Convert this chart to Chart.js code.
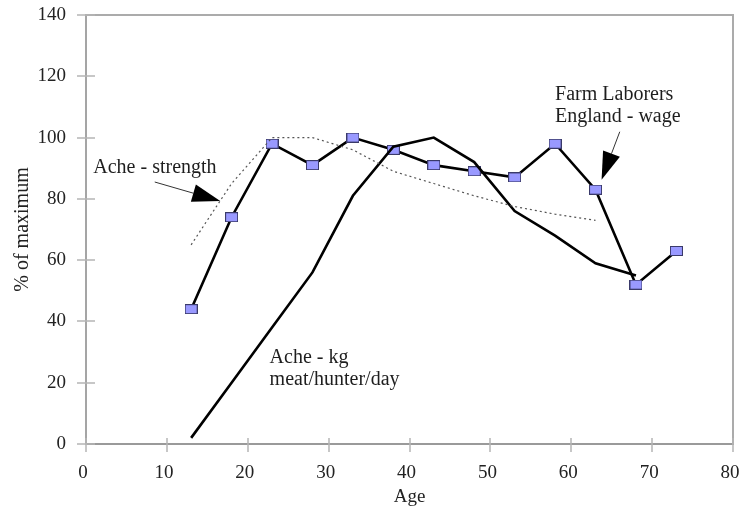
<!DOCTYPE html>
<html><head><meta charset="utf-8">
<script src="https://cdn.jsdelivr.net/npm/chart.js@4.4.0/dist/chart.umd.min.js"></script>
<style>html,body{margin:0;padding:0;background:#fff}</style>
</head><body>
<canvas id="c" width="742" height="509"></canvas>
<script>
// ---- data ----
const farmAges   = [13, 18, 23, 28, 33, 38, 43, 48, 53, 58, 63, 68, 73];
const farmWage   = [44, 74, 98, 91, 100, 96, 91, 89, 87, 98, 83, 52, 63];
const acheKgAges = [13, 18, 23, 28, 33, 38, 43, 48, 53, 58, 63, 68];
const acheKg     = [2, 20, 38, 56, 81, 97, 100, 92, 76, 68, 59, 55];
const strengthAges = [13, 18, 23, 28, 33, 38, 43, 48, 53, 58, 63];
const acheStrength = [65, 85, 100, 100, 96, 89, 85, 81, 77.5, 75, 73];
const xTicks = [0, 10, 20, 30, 40, 50, 60, 70, 80];
const yTicks = [0, 20, 40, 60, 80, 100, 120, 140];
const xTitle = 'Age';
const yTitle = '% of maximum';

// annotations (in data coordinates)
const labels = [
  {lines: ['Ache - strength'], x: 0.9, y: 88.4},
  {lines: ['Farm Laborers', 'England - wage'], x: 58.0, y: 112.3},
  {lines: ['Ache - kg', 'meat/hunter/day'], x: 22.7, y: 26.3}
];
const arrows = [
  {from: [8.5, 85.5], to: [16.6, 79.3]},
  {from: [66.0, 101.9], to: [63.75, 86.2]}
];

const toXY = (xs, ys) => xs.map((x, i) => ({x: x, y: ys[i]}));

// rectangular marker
const marker = document.createElement('canvas');
marker.width = 13; marker.height = 10;
(function(){
  const m = marker.getContext('2d');
  m.fillStyle = '#9999ff';
  m.fillRect(0.5, 0.5, 12, 9);
  m.strokeStyle = '#3a3a6a';
  m.lineWidth = 1;
  m.strokeRect(0.5, 0.5, 12, 9);
})();

const FONT = 'Liberation Serif, Times New Roman, serif';

const zeroPad = s => { s.paddingTop = 0; s.paddingBottom = 0; s.paddingLeft = 0; s.paddingRight = 0; };

const decor = {
  id: 'decor',
  beforeDatasetsDraw(chart) {
    const {ctx, chartArea: a, scales: {x, y}} = chart;
    ctx.save();
    ctx.strokeStyle = '#ababab';
    ctx.lineWidth = 2;
    ctx.beginPath();
    ctx.moveTo(a.left, a.top); ctx.lineTo(a.right, a.top); ctx.lineTo(a.right, a.bottom);
    ctx.stroke();
    ctx.strokeStyle = '#b5b5b5';
    ctx.lineWidth = 1.5;
    ctx.beginPath();
    yTicks.forEach(v => {
      const py = Math.round(y.getPixelForValue(v));
      ctx.moveTo(a.left - 9, py); ctx.lineTo(a.left + 9, py);
    });
    xTicks.forEach(v => {
      const px = Math.round(x.getPixelForValue(v));
      ctx.moveTo(px, a.bottom - 6); ctx.lineTo(px, a.bottom + 8);
    });
    ctx.stroke();
    ctx.restore();
  },
  afterDatasetsDraw(chart) {
    const {ctx, scales: {x, y}} = chart;
    ctx.save();
    ctx.fillStyle = '#1e1e1e';
    ctx.font = '20px ' + FONT;
    ctx.textBaseline = 'alphabetic';
    ctx.textAlign = 'left';
    labels.forEach(l => {
      const px = x.getPixelForValue(l.x);
      const py = y.getPixelForValue(l.y);
      l.lines.forEach((t, i) => ctx.fillText(t, px, py + i * 22));
    });
    arrows.forEach(ar => {
      const x0 = x.getPixelForValue(ar.from[0]), y0 = y.getPixelForValue(ar.from[1]);
      const x1 = x.getPixelForValue(ar.to[0]), y1 = y.getPixelForValue(ar.to[1]);
      const dx = x1 - x0, dy = y1 - y0, len = Math.hypot(dx, dy);
      const ux = dx / len, uy = dy / len;
      const hl = 28, hw = 9;
      const bx = x1 - ux * hl, by = y1 - uy * hl;
      ctx.strokeStyle = '#333';
      ctx.lineWidth = 1;
      ctx.beginPath(); ctx.moveTo(x0, y0); ctx.lineTo(bx, by); ctx.stroke();
      ctx.fillStyle = '#000';
      ctx.beginPath();
      ctx.moveTo(x1, y1);
      ctx.lineTo(bx - uy * hw, by + ux * hw);
      ctx.lineTo(bx + uy * hw, by - ux * hw);
      ctx.closePath(); ctx.fill();
    });
    ctx.restore();
  }
};

new Chart(document.getElementById('c'), {
  type: 'scatter',
  data: {
    datasets: [
      {
        label: 'Ache - strength',
        data: toXY(strengthAges, acheStrength),
        showLine: true, borderColor: '#555', borderWidth: 1.2,
        borderDash: [2, 3], pointRadius: 0, tension: 0, fill: false
      },
      {
        label: 'Ache - kg meat/hunter/day',
        data: toXY(acheKgAges, acheKg),
        showLine: true, borderColor: '#000', borderWidth: 2.6,
        pointRadius: 0, tension: 0, fill: false
      },
      {
        label: 'Farm Laborers England - wage',
        data: toXY(farmAges, farmWage),
        showLine: true, borderColor: '#000', borderWidth: 2.6,
        pointStyle: marker, pointRadius: 6, tension: 0, fill: false
      }
    ]
  },
  options: {
    responsive: false,
    animation: false,
    layout: {padding: {top: 15, right: 9, left: 0, bottom: 0}},
    plugins: {legend: {display: false}, tooltip: {enabled: false}},
    scales: {
      x: {
        type: 'linear', min: 0, max: 80,
        afterFit: s => { s.height = 65; zeroPad(s); },
        afterBuildTicks: s => { s.ticks = xTicks.map(v => ({value: v})); },
        ticks: {stepSize: 10, padding: 18, labelOffset: -3, color: '#222',
                font: {family: FONT, size: 19}, maxRotation: 0},
        grid: {display: false, drawTicks: false},
        border: {display: true, color: '#9a9a9a', width: 2},
        title: {display: true, text: xTitle, color: '#222',
                font: {family: FONT, size: 19}, padding: {top: 0, bottom: 1}}
      },
      y: {
        min: 0, max: 140,
        afterFit: s => { s.width = 86; zeroPad(s); },
        afterBuildTicks: s => { s.ticks = yTicks.map(v => ({value: v})); },
        ticks: {stepSize: 20, padding: 20, color: '#222',
                font: {family: FONT, size: 19}},
        grid: {display: false, drawTicks: false},
        border: {display: true, color: '#a5a5a5', width: 2},
        title: {display: true, text: yTitle, color: '#222',
                font: {family: FONT, size: 20}, padding: {top: 11, bottom: 0}}
      }
    }
  },
  plugins: [decor]
});
</script>
</body></html>
